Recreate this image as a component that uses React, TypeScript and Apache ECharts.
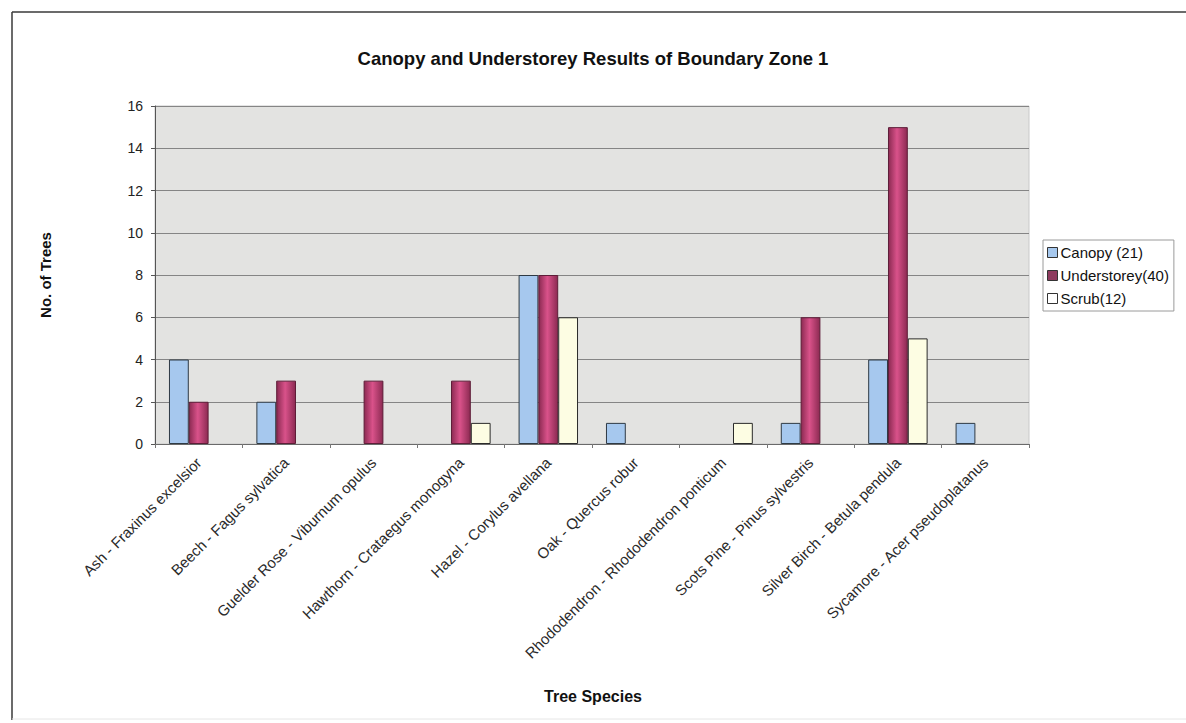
import React, { useEffect, useRef } from "react";
import * as echarts from "echarts";

const species = [
  "Ash - Fraxinus excelsior",
  "Beech - Fagus sylvatica",
  "Guelder Rose - Viburnum opulus",
  "Hawthorn - Crataegus monogyna",
  "Hazel - Corylus avellana",
  "Oak - Quercus robur",
  "Rhododendron - Rhododendron ponticum",
  "Scots Pine - Pinus sylvestris",
  "Silver Birch - Betula pendula",
  "Sycamore - Acer pseudoplatanus",
];

const canopy = [4, 2, 0, 0, 8, 1, 0, 1, 4, 1];
const understorey = [2, 3, 3, 3, 8, 0, 0, 6, 15, 0];
const scrub = [0, 0, 0, 1, 6, 0, 1, 0, 5, 0];

const seriesNames = ["Canopy (21)", "Understorey(40)", "Scrub(12)"];
const yTicks = [0, 2, 4, 6, 8, 10, 12, 14, 16];

const FONT = "'Liberation Sans', Arial, sans-serif";

// zero counts leave the slot empty instead of drawing a flat bar
const hideZero = (arr: number[]) => arr.map((v) => (v === 0 ? null : v));

export default function App() {
  const ref = useRef<HTMLDivElement>(null);

  useEffect(() => {
    if (!ref.current) return;
    const chart = echarts.init(ref.current, null, { renderer: "svg" });

    const understoreyFill = new echarts.graphic.LinearGradient(0, 0, 1, 0, [
      { offset: 0, color: "#8c2a52" },
      { offset: 0.45, color: "#d9528a" },
      { offset: 1, color: "#8c2a52" },
    ]);

    chart.setOption({
      animation: false,
      backgroundColor: "#ffffff",
      title: {
        text: "Canopy and Understorey Results of Boundary Zone 1",
        left: "center",
        top: 44,
        textStyle: { fontFamily: FONT, fontSize: 18.5, fontWeight: "bold", color: "#111" },
      },
      legend: {
        orient: "vertical",
        left: 1043,
        top: 240,
        padding: [5, 5, 5, 4],
        itemGap: 8,
        itemWidth: 10,
        itemHeight: 10,
        icon: "rect",
        borderColor: "#9a9a9a",
        borderWidth: 1,
        backgroundColor: "#ffffff",
        textStyle: { fontFamily: FONT, fontSize: 15, color: "#111", padding: [0, 0, 0, -2] },
        data: [
          { name: seriesNames[0], itemStyle: { color: "#a6c8ee", borderColor: "#333", borderWidth: 1 } },
          { name: seriesNames[1], itemStyle: { color: "#8e3a5e", borderColor: "#333", borderWidth: 1 } },
          { name: seriesNames[2], itemStyle: { color: "#ffffff", borderColor: "#333", borderWidth: 1 } },
        ],
      },
      grid: {
        left: 155,
        right: 157,
        top: 106,
        bottom: 279,
        show: true,
        backgroundColor: "#e3e3e1",
        borderColor: "#c9c9c9",
        borderWidth: 1,
      },
      xAxis: {
        type: "category",
        data: species,
        boundaryGap: true,
        axisLine: { lineStyle: { color: "#6a6a6a", width: 1 } },
        axisTick: { show: true, length: 4, lineStyle: { color: "#777" } },
        axisLabel: {
          rotate: 45,
          interval: 0,
          margin: 16,
          fontFamily: FONT,
          fontSize: 15,
          color: "#2a2a2a",
        },
      },
      yAxis: {
        type: "value",
        min: 0,
        max: 16,
        interval: 2,
        axisLine: { show: true, lineStyle: { color: "#555", width: 1 } },
        axisTick: { show: true, length: 4, lineStyle: { color: "#555" } },
        axisLabel: {
          margin: 12,
          fontFamily: FONT,
          fontSize: 14,
          color: "#222",
          formatter: (v: number) => (yTicks.includes(v) ? String(v) : ""),
        },
        splitLine: { show: true, lineStyle: { color: "#858585", width: 1 } },
      },
      graphic: [
        {
          type: "line",
          shape: { x1: 12, y1: 12, x2: 1186, y2: 12 },
          style: { stroke: "#3a3a3a", lineWidth: 1.5 },
        },
        {
          type: "line",
          shape: { x1: 12, y1: 12, x2: 12, y2: 720 },
          style: { stroke: "#3a3a3a", lineWidth: 1.5 },
        },
        {
          type: "line",
          shape: { x1: 12, y1: 719, x2: 1186, y2: 719 },
          style: { stroke: "#e6e6e6", lineWidth: 1 },
        },
        {
          type: "text",
          x: 45,
          y: 275,
          rotation: Math.PI / 2,
          style: {
            text: "No. of Trees",
            fontFamily: FONT,
            fontSize: 15,
            fontWeight: "bold",
            fill: "#111",
            align: "center",
            verticalAlign: "middle",
          },
        },
        {
          type: "text",
          x: 593,
          y: 696,
          style: {
            text: "Tree Species",
            fontFamily: FONT,
            fontSize: 16,
            fontWeight: "bold",
            fill: "#111",
            align: "center",
            verticalAlign: "middle",
          },
        },
      ],
      series: [
        {
          name: seriesNames[0],
          type: "bar",
          data: hideZero(canopy),
          barGap: "0%",
          barCategoryGap: "32%",
          itemStyle: { color: "#a6c8ee", borderColor: "#2e3a44", borderWidth: 1 },
        },
        {
          name: seriesNames[1],
          type: "bar",
          data: hideZero(understorey),
          itemStyle: { color: understoreyFill, borderColor: "#5e1d38", borderWidth: 1 },
        },
        {
          name: seriesNames[2],
          type: "bar",
          data: hideZero(scrub),
          itemStyle: { color: "#fdfde3", borderColor: "#2a2a2a", borderWidth: 1 },
        },
      ],
    });

    return () => chart.dispose();
  }, []);

  return (
    <div
      ref={ref}
      style={{ position: "fixed", left: 0, top: 0, width: 1186, height: 723 }}
    />
  );
}
